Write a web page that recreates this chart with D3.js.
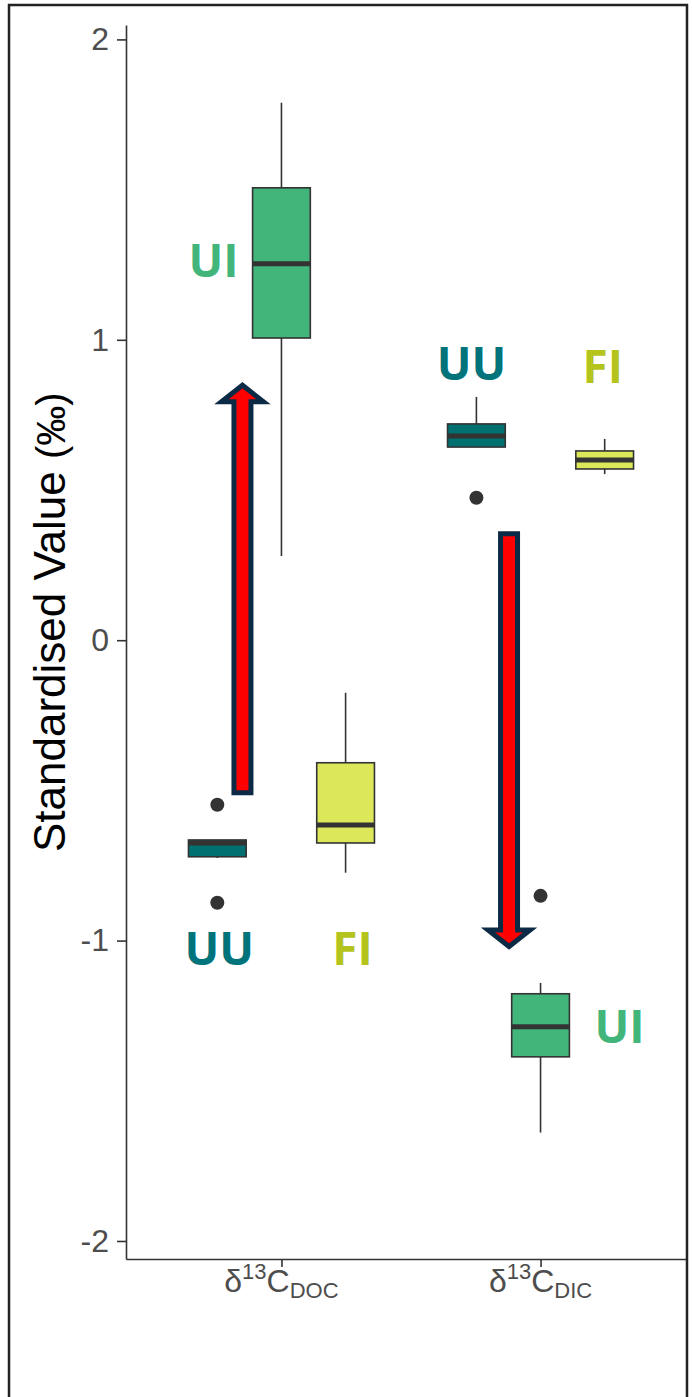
<!DOCTYPE html>
<html>
<head>
<meta charset="utf-8">
<script src="https://cdn.jsdelivr.net/npm/d3@7"></script>
<style>
  body { margin: 0; background: #fff; }
  svg { display: block; }
</style>
</head>
<body>
<div id="canvas"></div>
<script>
// categories
const variables = ["DOC", "DIC"];
const groups = ["UU", "UI", "FI"];
const tickValues = [-2, -1, 0, 1, 2];

// box stats per variable, in order of groups: [lowWhisker, q1, median, q3, highWhisker]
const docStats = [
  [-0.725, -0.721, -0.675, -0.665, -0.665],
  [0.28, 1.006, 1.253, 1.506, 1.789],
  [-0.774, -0.675, -0.615, -0.408, -0.175]
];
const dicStats = [
  [0.643, 0.643, 0.680, 0.720, 0.810],
  [-1.639, -1.387, -1.287, -1.177, -1.141],
  [0.553, 0.570, 0.600, 0.630, 0.670]
];
const docOutliers = [[-0.548, -0.874], [], []];
const dicOutliers = [[0.474], [-0.851], []];

const fills = { UU: "#007070", UI: "#42b57a", FI: "#dce85a" };
const labelColors = { UU: "#00747a", UI: "#42b57a", FI: "#b5c41c" };

const width = 692;
const height = 1397;

const svg = d3.select("#canvas").append("svg")
  .attr("width", width)
  .attr("height", height);

svg.append("defs").append("clipPath").attr("id", "frameclip")
  .append("rect").attr("x", 0).attr("y", 0).attr("width", 687).attr("height", height);

const g = svg.append("g").attr("clip-path", "url(#frameclip)");

const y = d3.scaleLinear().domain([-2.06, 2.048]).range([1259, 25]);
const x = d3.scalePoint().domain(variables).range([126, 696]).padding(0.6);
const xs = d3.scaleBand().domain(groups).range([-93, 93]).paddingInner(0.1);

const boxes = [];
variables.forEach((v, vi) => {
  const stats = vi === 0 ? docStats : dicStats;
  const outs = vi === 0 ? docOutliers : dicOutliers;
  groups.forEach((grp, gi) => {
    const s = stats[gi];
    boxes.push({ v, grp, lo: s[0], q1: s[1], med: s[2], q3: s[3], hi: s[4], out: outs[gi] });
  });
});

const bw = xs.bandwidth();
const cx = d => x(d.v) + xs(d.grp) + bw / 2;

const bg = g.append("g");
// whiskers
bg.selectAll("line.whisk").data(boxes).enter().append("line")
  .attr("x1", cx).attr("x2", cx)
  .attr("y1", d => y(d.hi)).attr("y2", d => y(d.lo))
  .attr("stroke", "#333").attr("stroke-width", 1.6);
// boxes
bg.selectAll("rect.box").data(boxes).enter().append("rect")
  .attr("x", d => x(d.v) + xs(d.grp))
  .attr("y", d => y(d.q3))
  .attr("width", bw)
  .attr("height", d => y(d.q1) - y(d.q3))
  .attr("fill", d => fills[d.grp])
  .attr("stroke", "#333").attr("stroke-width", 1.6);
// medians
bg.selectAll("line.med").data(boxes).enter().append("line")
  .attr("x1", d => x(d.v) + xs(d.grp)).attr("x2", d => x(d.v) + xs(d.grp) + bw)
  .attr("y1", d => y(d.med)).attr("y2", d => y(d.med))
  .attr("stroke", "#333").attr("stroke-width", 5);
// outliers
const outPts = boxes.flatMap(d => d.out.map(o => ({ d, o })));
bg.selectAll("circle").data(outPts).enter().append("circle")
  .attr("cx", p => cx(p.d)).attr("cy", p => y(p.o)).attr("r", 7)
  .attr("fill", "#333");

// axes
const yAxis = g.append("g")
  .attr("transform", "translate(126,0)")
  .call(d3.axisLeft(y).tickValues(tickValues).tickSize(9).tickSizeOuter(0).tickPadding(8).tickFormat(d => String(d)));
yAxis.select(".domain").attr("stroke", "#333").attr("stroke-width", 1.6);
yAxis.selectAll(".tick line").attr("stroke", "#333").attr("stroke-width", 1.6);
yAxis.selectAll(".tick text")
  .attr("fill", "#4d4d4d").attr("font-size", 32).attr("font-family", "Liberation Sans, Arial, sans-serif");

const xAxis = g.append("g")
  .attr("transform", "translate(0,1259)")
  .call(d3.axisBottom(x).tickSize(8).tickSizeOuter(0).tickFormat(""));
xAxis.select(".domain").attr("stroke", "#333").attr("stroke-width", 1.6);
xAxis.selectAll(".tick line").attr("stroke", "#333").attr("stroke-width", 1.6);

const xl = g.append("g");
variables.forEach(v => {
  const t = xl.append("text")
    .attr("x", x(v)).attr("y", 1292)
    .attr("text-anchor", "middle")
    .attr("fill", "#4d4d4d")
    .attr("font-family", "Liberation Sans, Arial, sans-serif")
    .attr("font-size", 32);
  t.append("tspan").text("δ");
  t.append("tspan").attr("font-size", 22).attr("dy", -13).text("13");
  t.append("tspan").attr("dy", 13).text("C");
  t.append("tspan").attr("font-size", 22).attr("dy", 6).text(v);
});

// y title
const title = svg.append("text")
  .attr("transform", "translate(65,852) rotate(-90)")
  .attr("text-anchor", "start")
  .attr("fill", "#000")
  .attr("font-family", "Liberation Sans, Arial, sans-serif")
  .attr("font-size", 44);
title.append("tspan").text("Standardised Value ");
title.append("tspan").attr("font-size", 40).text("(‰)");

// arrows (annotation), positioned in data units
const arrows = [
  { v: "DOC", off: -39, from: -0.508, to: 0.857 },
  { v: "DIC", off: -31.5, from: 0.354, to: -1.028 }
];
arrows.forEach(a => {
  const ax = x(a.v) + a.off;
  const y0 = y(a.from), y1 = y(a.to);
  const dir = y1 < y0 ? -1 : 1;
  const sw = 8.5, hw = 21, hl = 19;
  const yb = y1 - dir * hl;
  const pts = [
    [ax - sw, y0], [ax - sw, yb], [ax - hw, yb], [ax, y1 - dir * 2.5],
    [ax + hw, yb], [ax + sw, yb], [ax + sw, y0]
  ];
  g.append("path")
    .attr("d", d3.line()(pts) + "Z")
    .attr("fill", "#ff0000")
    .attr("stroke", "#0b2a45")
    .attr("stroke-width", 5)
    .attr("stroke-linejoin", "miter");
});

// group labels
const labels = [
  { v: "DOC", grp: "UI", dx: -68, val: 1.21 },
  { v: "DOC", grp: "UU", dx: 2, val: -1.082 },
  { v: "DOC", grp: "FI", dx: 7, val: -1.082 },
  { v: "DIC", grp: "UU", dx: -5, val: 0.866 },
  { v: "DIC", grp: "FI", dx: -2, val: 0.856 },
  { v: "DIC", grp: "UI", dx: 79, val: -1.341 }
];
g.selectAll("text.lab").data(labels).enter().append("text")
  .attr("x", d => x(d.v) + xs(d.grp) + bw / 2 + d.dx)
  .attr("y", d => y(d.val))
  .attr("text-anchor", "middle")
  .attr("fill", d => labelColors[d.grp])
  .attr("font-family", "Open Sans, sans-serif")
  .attr("font-weight", "bold")
  .attr("font-size", 46)
  .text(d => d.grp);

// outer frame
svg.append("path")
  .attr("d", "M9,1397 V5 H687 V1397")
  .attr("fill", "none")
  .attr("stroke", "#222")
  .attr("stroke-width", 2.5);
</script>
</body>
</html>
